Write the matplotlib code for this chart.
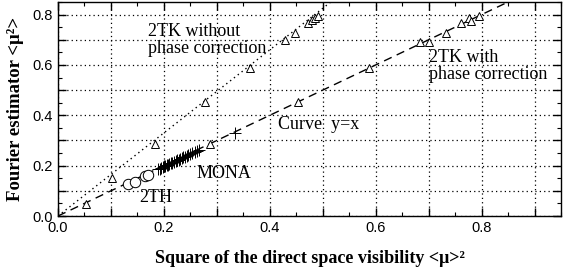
import matplotlib
matplotlib.use("Agg")
import matplotlib.pyplot as plt
from matplotlib.ticker import MultipleLocator, FuncFormatter

# 2TK without phase correction (dotted fit)
tk_nc_x = [0.102, 0.183, 0.277, 0.362, 0.428, 0.447, 0.472, 0.479, 0.485, 0.491]
tk_nc_y = [0.151, 0.286, 0.452, 0.587, 0.698, 0.726, 0.766, 0.778, 0.786, 0.794]
# 2TK with phase correction
tk_c_x = [0.053, 0.287, 0.453, 0.587, 0.683, 0.700, 0.732, 0.762, 0.777, 0.780, 0.796]
tk_c_y = [0.048, 0.286, 0.452, 0.587, 0.690, 0.690, 0.726, 0.766, 0.786, 0.775, 0.794]
# 2TH
th_x = [0.132, 0.145, 0.165, 0.170]
th_y = [0.128, 0.135, 0.158, 0.163]
# MONA
mona_x = [0.188, 0.192, 0.195, 0.198, 0.200, 0.203, 0.206, 0.208, 0.210, 0.213,
          0.216, 0.219, 0.222, 0.225, 0.228, 0.231, 0.234, 0.237, 0.240, 0.243,
          0.246, 0.250, 0.254, 0.258, 0.262, 0.266, 0.334]
mona_y = [0.186, 0.188, 0.192, 0.193, 0.197, 0.199, 0.203, 0.204, 0.207, 0.209,
          0.212, 0.216, 0.218, 0.222, 0.224, 0.228, 0.230, 0.234, 0.236, 0.240,
          0.242, 0.246, 0.250, 0.254, 0.258, 0.262, 0.329]
# reference curves
line_x = [0.0, 0.85]
line_y = [0.0, 0.85]
fit_slope = 1.65
fit_x = [0.0, 0.85 / fit_slope]
fit_y = [0.0, 0.85]

fig = plt.figure(figsize=(5.63, 2.70), dpi=100)
ax = fig.add_axes([0.103, 0.2, 0.8935, 0.7926])

ax.plot(line_x, line_y, color="black", ls=(0, (6, 4)), lw=1.0)
ax.plot(fit_x, fit_y, color="black", ls=(0, (1, 2.5)), lw=1.0)
ax.plot(tk_nc_x, tk_nc_y, ls="none", marker="^", ms=6, mfc="white", mec="black", mew=0.7)
ax.plot(tk_c_x, tk_c_y, ls="none", marker="^", ms=6, mfc="white", mec="black", mew=0.7)
ax.plot(th_x, th_y, ls="none", marker="o", ms=7.5, mfc="white", mec="black", mew=0.7)
ax.plot(mona_x, mona_y, ls="none", marker="+", ms=8, color="black", mew=0.7)

ax.set_xlim(0, 0.95)
ax.set_ylim(0, 0.85)
ax.xaxis.set_major_locator(MultipleLocator(0.1))
ax.xaxis.set_minor_locator(MultipleLocator(0.05))
ax.yaxis.set_major_locator(MultipleLocator(0.1))
ax.yaxis.set_minor_locator(MultipleLocator(0.05))
fmt = FuncFormatter(lambda v, p: ("%.1f" % v) if abs(round(v * 10) % 2) < 0.5 else "")
ax.xaxis.set_major_formatter(fmt)
ax.yaxis.set_major_formatter(fmt)
ax.tick_params(which="both", direction="in", top=True, right=True, labelsize=10.5)
ax.tick_params(which="major", length=6, width=1)
ax.tick_params(which="minor", length=3, width=0.8)
for lab in ax.get_xticklabels() + ax.get_yticklabels():
    lab.set_family("Liberation Sans")
ax.grid(True, which="major", color="black", ls=(0, (1, 2.5)), lw=0.9)
for s in ax.spines.values():
    s.set_linewidth(1.0)

serif = "Liberation Serif"
ax.set_xlabel("Square of the direct space visibility <\u03bc>\u00b2", family=serif,
              fontweight="bold", fontsize=13, labelpad=11)
ax.set_ylabel("Fourier estimator <\u03bc\u00b2>", family=serif, fontweight="bold",
              fontsize=13.5, labelpad=6)

tk = dict(family=serif, fontsize=13, color="black", linespacing=1.0)
ax.text(0.17, 0.70, "2TK without\nphase correction", va="center", ha="left", **tk)
ax.text(0.70, 0.595, "2TK with\nphase correction", va="center", ha="left", **tk)
ax.text(0.415, 0.365, "Curve  y=x", va="center", ha="left", **tk)
ax.text(0.262, 0.17, "MONA", va="center", ha="left", **tk)
ax.text(0.153, 0.075, "2TH", va="center", ha="left", **tk)

fig.savefig("out.png", dpi=100)
